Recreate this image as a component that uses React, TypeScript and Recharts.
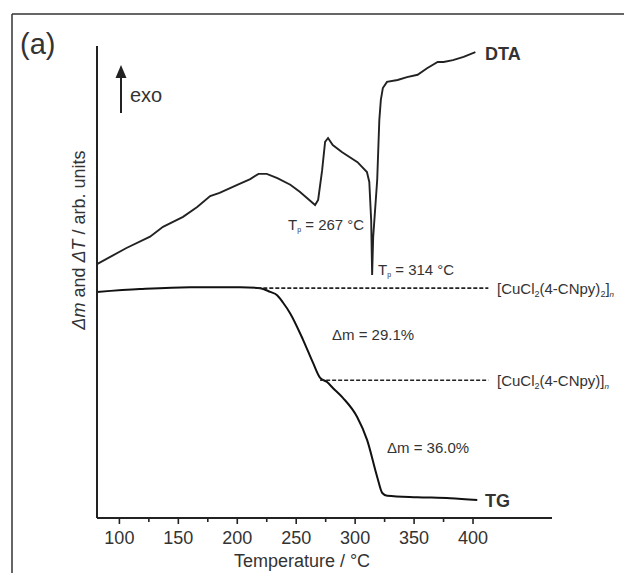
import React from "react";
import { LineChart, Line, XAxis, YAxis } from "recharts";

const dtaT = [81, 106, 126, 137, 154, 166, 177, 185, 200, 211, 218, 225, 234, 245, 253, 266, 268.6, 272, 274.5, 277, 281, 289, 302, 310, 312, 313.6, 314.4, 315.3, 318.7, 320.5, 321.8, 323.5, 327, 336, 344, 353, 361, 370, 375, 383, 392, 402];
const dtaV = [53.8, 57.2, 59.6, 61.7, 63.8, 65.9, 68.2, 68.9, 70.6, 71.8, 72.9, 72.9, 72.0, 70.6, 69.1, 66.3, 67.4, 73.7, 79.7, 80.5, 79.0, 77.5, 75.4, 73.3, 71.2, 63.1, 51.5, 59.5, 71.6, 84.3, 88.6, 91.1, 92.4, 92.8, 93.4, 93.9, 95.3, 96.6, 96.6, 97.0, 97.7, 98.7];

const tgT = [81, 117.5, 160, 202.4, 219.4, 227.9, 233.8, 238.9, 244.8, 255.9, 264.4, 270.3, 276.2, 281.3, 289.8, 301.7, 310.2, 318.7, 323, 327.2, 352.6, 380.7, 403.6];
const tgV = [47.9, 48.5, 48.9, 48.9, 48.7, 47.9, 47.2, 45.6, 43.4, 37.7, 32.8, 29.7, 28.8, 27.5, 25.4, 21.4, 16.5, 8.7, 5.3, 4.7, 4.4, 4.2, 3.8];

const step1T = [217, 413];
const step1V = [48.7, 48.7];
const step2T = [270.3, 413];
const step2V = [29.2, 29.2];

const xTicks = [100, 125, 150, 175, 200, 225, 250, 275, 300, 325, 350, 375, 400];

const zip = (ts: number[], vs: number[]) => ts.map((t, i) => ({ t, v: vs[i] }));
const dta = zip(dtaT, dtaV);
const tg = zip(tgT, tgV);
const step1 = zip(step1T, step1V);
const step2 = zip(step2T, step2V);

const FONT = "'Liberation Sans', Arial, sans-serif";
const INK = "#222";
const TXT = "#333";

const Tick = (props: any) => {
  const { x, y, payload } = props;
  const major = payload.value % 50 === 0;
  return (
    <g>
      <line x1={x} x2={x} y1={y} y2={y + (major ? 6 : 4)} stroke={INK} strokeWidth={1.6} />
      {major && (
        <text x={x} y={y + 26} textAnchor="middle" fontSize={18} fontFamily={FONT} fill={TXT}>
          {payload.value}
        </text>
      )}
    </g>
  );
};

export default function App() {
  return (
    <div style={{ position: "absolute", left: 0, top: 0, width: 624, height: 573, background: "#fff", overflow: "hidden" }}>
      <LineChart width={624} height={573} margin={{ top: 46, right: 72, bottom: 0, left: 0 }}>
        <XAxis
          type="number"
          dataKey="t"
          domain={[81, 467]}
          ticks={xTicks}
          interval={0}
          allowDataOverflow
          height={55}
          tickSize={0}
          tickMargin={0}
          tickLine={false}
          tick={<Tick />}
          axisLine={{ stroke: INK, strokeWidth: 2 }}
        />
        <YAxis
          type="number"
          dataKey="v"
          domain={[0, 100]}
          width={97}
          tick={false}
          tickLine={false}
          axisLine={{ stroke: INK, strokeWidth: 2 }}
        />
        <Line data={dta} dataKey="v" type="linear" stroke={INK} strokeWidth={1.9} dot={false} isAnimationActive={false} />
        <Line data={tg} dataKey="v" type="monotone" stroke="#111" strokeWidth={2} dot={false} isAnimationActive={false} />
        <Line data={step1} dataKey="v" type="linear" stroke={INK} strokeWidth={1.6} strokeDasharray="4 2" dot={false} isAnimationActive={false} />
        <Line data={step2} dataKey="v" type="linear" stroke={INK} strokeWidth={1.6} strokeDasharray="4 2" dot={false} isAnimationActive={false} />
      </LineChart>
      <svg width={624} height={573} style={{ position: "absolute", left: 0, top: 0, pointerEvents: "none" }}>
        <line x1={12} y1={14} x2={12} y2={573} stroke="#333" strokeWidth={1.5} />
        <line x1={12} y1={14} x2={624} y2={14} stroke="#333" strokeWidth={1.5} />
        <text x={20} y={54} fontSize={29} fontFamily={FONT} fill={TXT}>(a)</text>
        <line x1={121} y1={113} x2={121} y2={76} stroke={INK} strokeWidth={2} />
        <polygon points="121,65 115.5,78 126.5,78" fill={INK} />
        <text x={130} y={102} fontSize={20} fontFamily={FONT} fill={TXT}>exo</text>
        <text x={485} y={60} fontSize={18} fontWeight="bold" fontFamily={FONT} fill={TXT}>DTA</text>
        <text x={485} y={507} fontSize={18} fontWeight="bold" fontFamily={FONT} fill={TXT}>TG</text>
        <text x={288} y={230} fontSize={15} fontFamily={FONT} fill={TXT}>
          T<tspan fontSize={7} dy={2}>p</tspan><tspan dy={-2}> = 267 °C</tspan>
        </text>
        <text x={378} y={275} fontSize={15} fontFamily={FONT} fill={TXT}>
          T<tspan fontSize={7} dy={2}>p</tspan><tspan dy={-2}> = 314 °C</tspan>
        </text>
        <text x={332} y={340} fontSize={15} fontFamily={FONT} fill={TXT}>Δm = 29.1%</text>
        <text x={387} y={453} fontSize={15} fontFamily={FONT} fill={TXT}>Δm = 36.0%</text>
        <text x={497} y={294} fontSize={15} fontFamily={FONT} fill={TXT}>
          [CuCl<tspan fontSize={9} dy={3}>2</tspan><tspan dy={-3}>(4-CNpy)</tspan><tspan fontSize={9} dy={3}>2</tspan><tspan dy={-3}>]</tspan><tspan fontSize={8} fontStyle="italic" dy={3}>n</tspan>
        </text>
        <text x={497} y={386} fontSize={15} fontFamily={FONT} fill={TXT}>
          [CuCl<tspan fontSize={9} dy={3}>2</tspan><tspan dy={-3}>(4-CNpy)]</tspan><tspan fontSize={8} fontStyle="italic" dy={3}>n</tspan>
        </text>
        <text x={85} y={240} transform="rotate(-90 85 240)" textAnchor="middle" fontSize={18} fontFamily={FONT} fill={TXT}>
          <tspan fontStyle="italic">Δm</tspan> and <tspan fontStyle="italic">ΔT</tspan> / arb. units
        </text>
        <text x={302} y={567} textAnchor="middle" fontSize={18} fontFamily={FONT} fill={TXT}>Temperature / °C</text>
      </svg>
    </div>
  );
}
